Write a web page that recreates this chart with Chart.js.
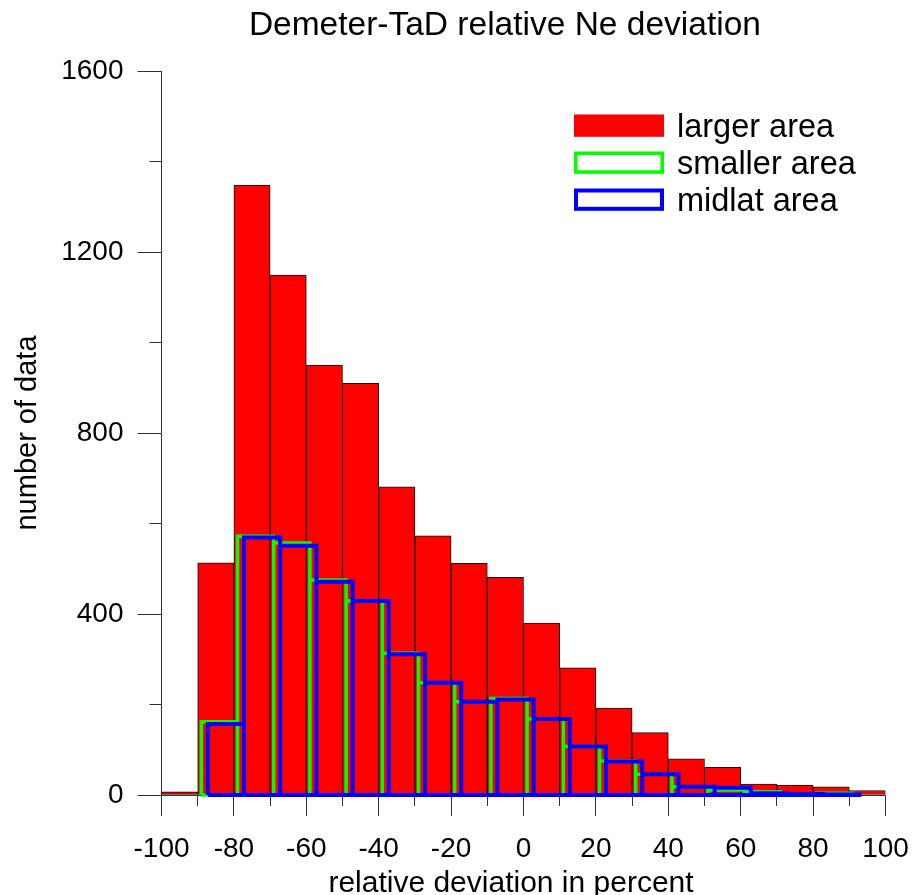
<!DOCTYPE html>
<html>
<head>
<meta charset="utf-8">
<title>Demeter-TaD relative Ne deviation</title>
<script src="https://cdn.jsdelivr.net/npm/chart.js@4.4.1/dist/chart.umd.min.js"></script>
<style>
  html, body { margin: 0; padding: 0; background: #fff; }
</style>
</head>
<body>
<canvas id="hist" width="916" height="895"></canvas>
<script>
// histogram bins, 10 % wide, from -100 to 100
const binWidth = 10;
const binStarts = [-100, -90, -80, -70, -60, -50, -40, -30, -20, -10, 0, 10, 20, 30, 40, 50, 60, 70, 80, 90];
const largerArea = [7, 513, 1348, 1149, 950, 910, 681, 573, 512, 481, 380, 281, 192, 138, 80, 61, 24, 22, 18, 10];

// smaller / midlat histograms start at the -90 bin, drawn slightly shifted to the right
const outlineFirstBin = -90;
const smallerArea = [162, 572, 557, 475, 429, 313, 248, 206, 213, 168, 107, 75, 46, 18, 11, 7, 3, 4];
const midlatArea = [157, 569, 551, 471, 429, 311, 248, 206, 211, 168, 107, 74, 46, 18, 16, 4, 2, 1];
const smallerShift = 1.0;
const midlatShift = 2.8;

const xTicksMajor = 20;
const yTicksMajor = 400;

Chart.defaults.font.family = '"Liberation Sans", Arial, sans-serif';
Chart.defaults.color = '#000';

// one rectangle per bin, every bin goes back down to zero
function outlinePoints(values, firstBin, shift) {
    const x0 = firstBin + shift;
    const pts = [{ x: x0, y: 0 }];
    values.forEach((v, i) => {
        const a = x0 + i * binWidth;
        const b = a + binWidth;
        pts.push({ x: a, y: v }, { x: b, y: v }, { x: b, y: 0 });
    });
    pts.push({ x: x0, y: 0 });
    return pts;
}

// legend with boxes stacked on the right, inside the plot
const boxLegend = {
    id: 'boxLegend',
    afterDraw(chart, args, opts) {
        const ctx = chart.ctx;
        ctx.save();
        ctx.font = opts.font;
        ctx.textBaseline = 'alphabetic';
        chart.data.datasets.forEach((ds, i) => {
            const top = opts.y + i * opts.rowH;
            if (ds.type === 'line') {
                const lw = ds.borderWidth;
                ctx.strokeStyle = ds.borderColor;
                ctx.lineWidth = lw;
                ctx.strokeRect(opts.x + lw / 2, top + lw / 2, opts.boxW - lw, opts.boxH - lw);
            } else {
                ctx.fillStyle = ds.backgroundColor;
                ctx.fillRect(opts.x, top, opts.boxW, opts.boxH);
            }
            ctx.fillStyle = '#000';
            ctx.fillText(ds.label, opts.x + opts.boxW + opts.gap, top + opts.boxH);
        });
        ctx.restore();
    }
};

new Chart(document.getElementById('hist'), {
    type: 'bar',
    data: {
        datasets: [
            {
                label: 'larger area',
                data: binStarts.map((s, i) => ({ x: s + binWidth / 2, y: largerArea[i] })),
                backgroundColor: '#ff0000',
                borderColor: '#111',
                borderWidth: 1,
                borderSkipped: false,
                barPercentage: 1,
                categoryPercentage: 1,
                order: 3
            },
            {
                type: 'line',
                label: 'smaller area',
                data: outlinePoints(smallerArea, outlineFirstBin, smallerShift),
                borderColor: '#00ff00',
                borderWidth: 3.5,
                borderJoinStyle: 'miter',
                pointRadius: 0,
                fill: false,
                tension: 0,
                clip: false,
                order: 2
            },
            {
                type: 'line',
                label: 'midlat area',
                data: outlinePoints(midlatArea, outlineFirstBin, midlatShift),
                borderColor: '#0000ff',
                borderWidth: 4,
                borderJoinStyle: 'miter',
                pointRadius: 0,
                fill: false,
                tension: 0,
                clip: false,
                order: 1
            }
        ]
    },
    options: {
        responsive: false,
        animation: false,
        layout: { padding: { left: 0, right: 30.5, top: 0, bottom: 0 } },
        scales: {
            x: {
                type: 'linear',
                min: -100,
                max: 100,
                offset: false,
                ticks: {
                    stepSize: 10,
                    autoSkip: false,
                    maxRotation: 0,
                    padding: 16,
                    font: { size: 28 },
                    callback: v => (v % xTicksMajor === 0 ? String(v) : '')
                },
                grid: {
                    offset: false,
                    drawOnChartArea: false,
                    tickLength: 21,
                    tickColor: '#333',
                    tickBorderDash: c => (c.tick && c.tick.value % xTicksMajor !== 0 ? [10, 100] : [])
                },
                border: { color: '#333' },
                title: {
                    display: true,
                    // trailing spaces pull the centred label a little to the left, as in the original
                    text: 'relative deviation in percent   ',
                    font: { size: 30 },
                    padding: { top: 0, bottom: -7 }
                },
                afterFit: s => {
                    s.height = 100;
                    s.paddingLeft = 0;
                    s.paddingRight = 0;
                }
            },
            y: {
                min: 0,
                max: 1600,
                ticks: {
                    stepSize: 200,
                    padding: 14,
                    font: { size: 28 },
                    callback: v => (v % yTicksMajor === 0 ? String(v) : '')
                },
                grid: {
                    drawOnChartArea: false,
                    tickLength: 24,
                    tickColor: '#333',
                    tickBorderDash: c => (c.tick && c.tick.value % yTicksMajor !== 0 ? [0, 12, 100] : [])
                },
                border: { color: '#333' },
                title: {
                    display: true,
                    text: 'number of data',
                    font: { size: 29 },
                    padding: { top: 11, bottom: 0 }
                },
                afterFit: s => { s.width = 161.5; }
            }
        },
        plugins: {
            legend: { display: false },
            tooltip: { enabled: false },
            title: {
                display: true,
                text: 'Demeter-TaD relative Ne deviation    ',
                fullSize: false,
                font: { size: 33.5, weight: 'normal' },
                padding: { top: 6, bottom: 24.8 }
            },
            boxLegend: {
                x: 574, y: 114.5, boxW: 90, boxH: 22.3, rowH: 37, gap: 13,
                font: '32.5px "Liberation Sans", Arial, sans-serif'
            }
        }
    },
    plugins: [boxLegend]
});
</script>
</body>
</html>
